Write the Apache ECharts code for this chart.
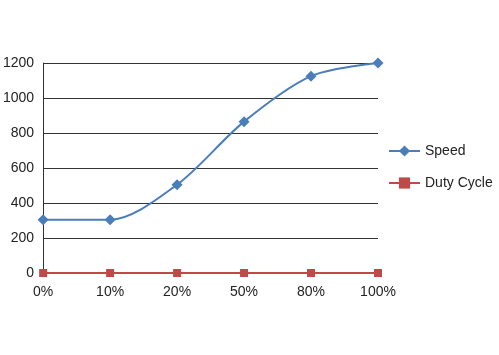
<!DOCTYPE html>
<html><head><meta charset="utf-8">
<script src="https://cdn.jsdelivr.net/npm/echarts@6/dist/echarts.min.js"></script>
<style>html,body{margin:0;padding:0;background:#fff}#c{width:499px;height:355px}</style>
</head><body><div id="c"></div>
<script>
var categories = ['0%', '10%', '20%', '50%', '80%', '100%'];
var speed = [305, 305, 505, 865, 1125, 1200];
var dutyCycle = [0, 0, 0, 0, 0, 0];
var yTicks = [0, 200, 400, 600, 800, 1000, 1200];

var chart = echarts.init(document.getElementById('c'), null, {renderer: 'canvas'});
chart.setOption({
  animation: false,
  backgroundColor: '#fff',
  textStyle: {fontFamily: 'Liberation Sans, Arial, sans-serif'},
  grid: {left: 43, right: 121, top: 63, bottom: 82, containLabel: false},
  legend: {
    orient: 'vertical', left: 383, top: 139,
    itemGap: 18, itemWidth: 31, itemHeight: 14,
    textStyle: {fontSize: 14, color: '#222', fontFamily: 'Liberation Sans, Arial, sans-serif'},
    data: ['Speed', 'Duty Cycle']
  },
  xAxis: {
    type: 'category', data: categories, boundaryGap: false,
    axisLine: {show: true, lineStyle: {color: '#333', width: 1}},
    axisTick: {show: false},
    axisLabel: {fontSize: 14, color: '#222', margin: 12}
  },
  yAxis: {
    type: 'value', min: yTicks[0], max: yTicks[yTicks.length - 1], interval: 200,
    axisLine: {show: true, lineStyle: {color: '#333', width: 1}},
    axisTick: {show: false},
    axisLabel: {fontSize: 14, color: '#222', margin: 9, formatter: function (v) { return String(v); }},
    splitLine: {show: true, lineStyle: {color: '#333', width: 1}}
  },
  series: [
    {
      name: 'Speed', type: 'line', data: speed, smooth: 0.3,
      symbol: 'diamond', symbolSize: 11,
      itemStyle: {color: '#4a7ebb'},
      lineStyle: {color: '#4a7ebb', width: 2}
    },
    {
      name: 'Duty Cycle', type: 'line', data: dutyCycle,
      symbol: 'rect', symbolSize: 8,
      itemStyle: {color: '#be4b48'},
      lineStyle: {color: '#be4b48', width: 2}
    }
  ]
});
</script>
</body></html>
